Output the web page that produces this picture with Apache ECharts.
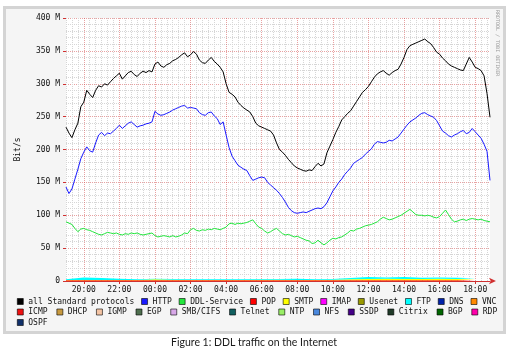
<!DOCTYPE html>
<html><head><meta charset="utf-8">
<script src="https://cdn.jsdelivr.net/npm/echarts@6/dist/echarts.min.js"></script>
<style>html,body{margin:0;padding:0;background:#fff}#c{width:508px;height:358px}</style>
</head><body><div id="c"></div>
<script>
// time domain: 10-minute samples starting 19:00
const startHour = 19, stepMinutes = 10, pointCount = 144;
const tickLabels = ['20:00','22:00','00:00','02:00','04:00','06:00','08:00','10:00','12:00','14:00','16:00','18:00'];
const yTicks = [0,50,100,150,200,250,300,350,400];

const allStandard = [234,225,218,230,240,265,272,290,284,279,
290,297,295,300,298,303,308,312,316,307,
312,317,319,314,311,316,319,317,320,318,
330,333,327,325,329,331,335,337,340,344,
347,341,344,349,345,336,332,331,336,340,
334,330,325,318,300,287,284,280,272,267,
263,260,257,250,240,236,234,232,230,228,
222,210,200,196,191,185,180,175,172,170,
168,167,169,168,174,179,175,178,195,205,
215,226,235,245,250,255,259,266,273,280,
287,291,296,303,310,315,318,320,316,313,
317,320,322,330,340,352,358,360,362,364,
366,368,364,361,355,348,345,339,335,330,
327,325,323,321,320,330,340,333,325,323,
320,312,285,249];

const http = [143,133,140,155,170,186,196,204,198,196,
210,222,226,221,225,224,228,232,237,232,
236,240,242,238,234,236,237,239,240,242,
258,254,252,253,255,257,260,262,264,266,
267,263,264,263,262,256,253,252,256,257,
251,247,238,242,222,203,190,183,176,173,
170,168,160,153,155,157,158,157,150,146,
142,138,133,127,120,112,107,104,103,104,
105,104,106,108,110,111,110,113,119,128,
137,143,150,155,162,167,172,179,182,185,
188,193,197,201,208,212,211,210,211,214,
213,216,219,225,231,237,242,245,248,252,
255,256,253,251,249,244,236,228,225,221,
219,222,224,227,229,224,226,232,227,222,
217,208,197,153];

const ddlService = [90,88,86,80,75,79,80,78,77,75,
73,71,70,72,74,73,72,73,71,70,
72,71,73,72,73,71,70,71,72,73,
69,67,68,69,68,67,69,67,68,70,
73,72,78,80,77,76,78,77,79,78,
80,79,78,80,82,87,88,86,88,87,
88,89,91,93,87,82,80,76,73,75,
78,80,76,72,70,71,69,67,68,66,
64,62,61,57,58,62,58,55,58,62,
65,64,66,67,70,73,77,76,79,80,
82,84,85,86,88,90,94,97,95,93,
94,96,98,100,103,106,109,105,101,100,
100,99,100,99,97,96,98,103,108,101,
94,90,91,93,94,92,94,95,94,93,
94,92,91,90];

// small protocols, hourly samples
const hourLabels = ['19:00','20:00','21:00','22:00','23:00','00:00','01:00','02:00','03:00','04:00','05:00','06:00',
  '07:00','08:00','09:00','10:00','11:00','12:00','13:00','14:00','15:00','16:00','17:00','18:00'];
const pop = [1,1,1,1,1,1,1,1,1,1,1,1,1,1,1,1,1,1,1,1,1,1,1,1];
const smtp = [0.5,0.5,0.5,0.5,0.5,1.5,1,0.5,0.5,0.5,0.5,1,1,0.5,0.5,1,1.5,2,2.5,2,2,2.5,2,1];
const ftp = [1,4,3,2,1,1,1,1,1,1,1,1,1,2,1,1,2,3,2,3,2,2,2,2];

const legendRow1 = ['all Standard protocols','HTTP','DDL-Service','POP','SMTP','IMAP','Usenet','FTP','DNS','VNC'];
const legendRow2 = ['ICMP','DHCP','IGMP','EGP','SMB/CIFS','Telnet','NTP','NFS','SSDP','Citrix','BGP','RDP'];
const legendRow3 = ['OSPF'];
const colors = {
  'all Standard protocols':'#000000','HTTP':'#1a1aff','DDL-Service':'#22e63c','POP':'#ff0000','SMTP':'#ffff00',
  'IMAP':'#ff00ff','Usenet':'#999900','FTP':'#00ffff','DNS':'#0022aa','VNC':'#ff8800',
  'ICMP':'#ee1111','DHCP':'#c89a40','IGMP':'#f4c4a4','EGP':'#4f6f4f','SMB/CIFS':'#d8a8e8','Telnet':'#105f5f',
  'NTP':'#99ee66','NFS':'#4a88dd','SSDP':'#440088','Citrix':'#1f3a28','BGP':'#006600','RDP':'#ff00aa','OSPF':'#10306a'
};

const categories = [];
for (let i = 0; i < pointCount; i++) {
  const m = (startHour * 60 + i * stepMinutes) % 1440;
  categories.push(String(Math.floor(m / 60)).padStart(2, '0') + ':' + String(m % 60).padStart(2, '0'));
}
const isMajor = (idx) => tickLabels.indexOf(categories[idx]) >= 0;
const isMinor = (idx) => (idx * stepMinutes) % 20 === 0;

const mono = 'DejaVu Sans Mono';
const series = [];
const smallDefs = [['POP', pop], ['SMTP', smtp], ['FTP', ftp]];
smallDefs.forEach(([name, arr]) => {
  series.push({name, type:'line', stack:'small', symbol:'none', xAxisIndex:0,
    lineStyle:{width:0}, areaStyle:{color:colors[name], opacity:1}, color:colors[name],
    data: hourLabels.map((h, k) => [h, arr[k]]), z:3});
});
series.push({name:'DDL-Service', type:'line', symbol:'none', data:ddlService, color:colors['DDL-Service'], lineStyle:{width:1}, z:4});
series.push({name:'HTTP', type:'line', symbol:'none', data:http, color:colors['HTTP'], lineStyle:{width:1}, z:4});
series.push({name:'all Standard protocols', type:'line', symbol:'none', data:allStandard, color:colors['all Standard protocols'], lineStyle:{width:1}, z:5});
const drawn = new Set(series.map(s => s.name));
legendRow1.concat(legendRow2, legendRow3).forEach(n => {
  if (!drawn.has(n)) series.push({name:n, type:'line', data:[], color:colors[n]});
});

const legendBase = {icon:'rect', itemWidth:6, itemHeight:6, selectedMode:false, orient:'horizontal',
  itemStyle:{borderColor:'#000', borderWidth:0.6}, padding:0,
  textStyle:{fontFamily:mono, fontSize:8, color:'#111'}};

const chart = echarts.init(document.getElementById('c'));
chart.setOption({
  animation:false,
  backgroundColor:'#ffffff',
  grid:{left:66, right:18, top:18, bottom:77, show:true, backgroundColor:'#ffffff', borderWidth:0},
  legend:[
    Object.assign({}, legendBase, {left:17, top:297.5, itemGap:7, data:legendRow1}),
    Object.assign({}, legendBase, {left:17, top:308, itemGap:9, data:legendRow2}),
    Object.assign({}, legendBase, {left:17, top:318.5, itemGap:9, data:legendRow3})
  ],
  xAxis:[{
    type:'category', data:categories, boundaryGap:false,
    axisLine:{show:true, lineStyle:{color:'#d03030', width:1}, symbol:['none','arrow'], symbolSize:[5,7], symbolOffset:[0,6]},
    axisTick:{show:true, interval:(i)=>isMajor(i), length:3, lineStyle:{color:'#d03030'}},
    axisLabel:{interval:(i)=>isMajor(i), fontFamily:mono, fontSize:8, color:'#111', margin:5},
    splitLine:{show:true, interval:(i)=>isMajor(i), lineStyle:{color:'rgba(210,70,70,0.5)', type:[1,1], width:1}}
  },{
    type:'category', data:categories, boundaryGap:false, position:'bottom',
    axisLine:{show:false}, axisTick:{show:false}, axisLabel:{show:false},
    splitLine:{show:true, interval:(i)=>isMinor(i) && !isMajor(i), lineStyle:{color:'#d6d6d6', type:[1,1], width:1}}
  }],
  yAxis:{
    type:'value', min:0, max:400, interval:50,
    name:'Bit/s', nameLocation:'middle', nameRotate:90, nameGap:44,
    nameTextStyle:{fontFamily:mono, fontSize:8, color:'#111'},
    axisLine:{show:false},
    axisTick:{show:true, length:3, lineStyle:{color:'#d03030'}},
    axisLabel:{fontFamily:mono, fontSize:8, color:'#111', margin:6,
      formatter:(v)=> yTicks.indexOf(v) >= 0 ? (v === 0 ? '0' : v + ' M') : ''},
    splitLine:{show:true, lineStyle:{color:'rgba(210,70,70,0.5)', type:[1,1], width:1}},
    minorTick:{show:false, splitNumber:5},
    minorSplitLine:{show:true, lineStyle:{color:'#d6d6d6', type:[1,1], width:1}}
  },
  graphic:[
    {type:'rect', z:-10, shape:{x:4.5, y:7.5, width:500, height:325}, style:{fill:'#f5f5f5', stroke:'#d4d4d4', lineWidth:3}},
    {type:'text', x:500, y:10, rotation:-Math.PI/2, style:{text:'RRDTOOL / TOBI OETIKER', font:'5px DejaVu Sans Mono', fill:'#9a9a9a'}},
    {type:'text', left:'center', top:337, style:{text:'Figure 1: DDL traffic on the Internet', font:'10.5px Lato', fill:'#1a1a1a'}}
  ],
  series
});
</script></body></html>
